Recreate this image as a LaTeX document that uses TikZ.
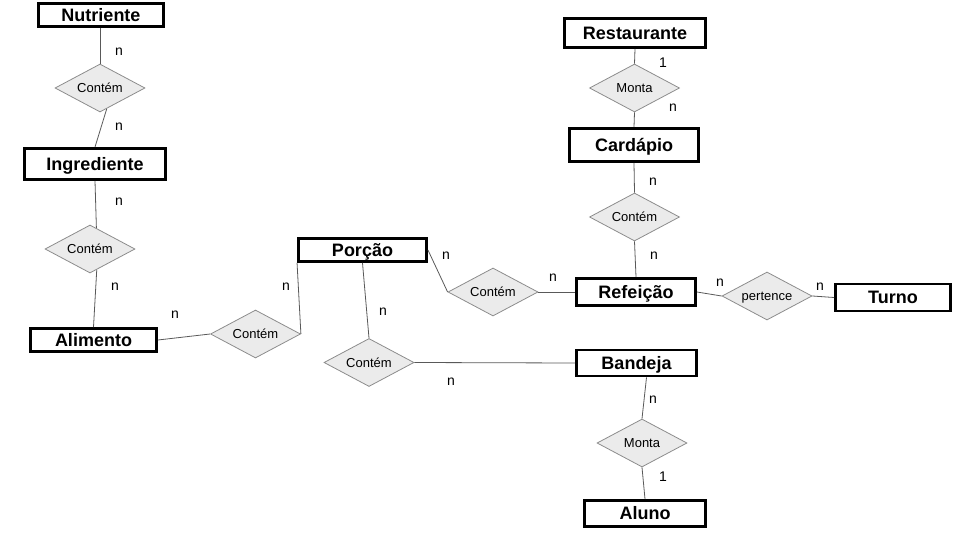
\documentclass[tikz,border=0pt]{standalone}
\usepackage{fontspec}
\setmainfont{Liberation Sans}
\usetikzlibrary{shapes.geometric,calc}

\begin{document}
\begin{tikzpicture}[x=1pt,y=-1pt,
	entidade/.style={draw=black, line width=2.9pt, fill=white, inner sep=0pt, text height=12.9pt, text depth=0pt, font=\fontsize{18}{20}\selectfont\bfseries},
	relacao/.style={diamond, shape aspect=2, draw=black!45, fill=black!8, line width=0.8pt, inner sep=0pt, minimum width=90pt, minimum height=48pt, text height=9.3pt, text depth=0pt, font=\fontsize{13}{15}\selectfont},
	liga/.style={draw=black!65, line width=0.8pt},
	rotulo/.style={inner sep=0pt, font=\fontsize{14}{16}\selectfont}]
	\useasboundingbox (0,0) rectangle (960,540);
	% entidades
	\node[entidade, minimum width=125pt, minimum height=23pt] (nutriente) at (101,15) {Nutriente};
	\node[entidade, minimum width=141pt, minimum height=31pt] (ingrediente) at (95,164) {Ingrediente};
	\node[entidade, minimum width=126pt, minimum height=23pt] (alimento) at (93.5,340) {Alimento};
	\node[entidade, minimum width=128pt, minimum height=23pt] (porcao) at (362.5,250) {Porção};
	\node[entidade, minimum width=119pt, minimum height=27pt] (refeicao) at (636,292) {Refeição};
	\node[entidade, minimum width=120pt, minimum height=26pt] (bandeja) at (636.5,363) {Bandeja};
	\node[entidade, minimum width=115pt, minimum height=27pt] (turno) at (893,297.5) {Turno};
	\node[entidade, minimum width=141pt, minimum height=29pt] (restaurante) at (635,33) {Restaurante};
	\node[entidade, minimum width=129pt, minimum height=33pt] (cardapio) at (634,145) {Cardápio};
	\node[entidade, minimum width=121pt, minimum height=26pt] (aluno) at (645,513.5) {Aluno};
	% relacionamentos
	\node[relacao] (contem1) at (100,88) {Contém};
	\node[relacao] (contem2) at (90,249) {Contém};
	\node[relacao] (contem3) at (255.5,334) {Contém};
	\node[relacao] (contem4) at (493,292) {Contém};
	\node[relacao] (contem5) at (369,362.5) {Contém};
	\node[relacao] (pertence) at (767,296) {pertence};
	\node[relacao] (monta1) at (634.5,88) {Monta};
	\node[relacao] (contem6) at (634.5,217) {Contém};
	\node[relacao] (monta2) at (642,443) {Monta};
	% ligacoes
	\draw[liga] (nutriente.south -| contem1.north) -- (contem1.north);
	\draw[liga] (contem1.-72) -- (ingrediente.north);
	\draw[liga] (ingrediente.south) -- (contem2.73);
	\draw[liga] (contem2.-72) -- (alimento.north);
	\draw[liga] (alimento.east) -- (contem3.west);
	\draw[liga] (contem3.east) -- (porcao.south west);
	\draw[liga] (porcao.east) -- (contem4.west);
	\draw[liga] (contem4.east) -- (refeicao.west);
	\draw[liga] (porcao.south) -- (contem5.north);
	\draw[liga] (contem5.east) -- (bandeja.west);
	\draw[liga] (restaurante.south) -- (monta1.north);
	\draw[liga] (monta1.south) -- (cardapio.north);
	\draw[liga] (cardapio.south) -- (contem6.north);
	\draw[liga] (contem6.south) -- (refeicao.north);
	\draw[liga] (refeicao.east) -- (pertence.west);
	\draw[liga] (pertence.east) -- (turno.west);
	\draw[liga] ($(bandeja.south)+(10,0)$) -- (monta2.north);
	\draw[liga] (monta2.south) -- (aluno.north);
	% cardinalidades
	\foreach \x/\y/\t [count=\i] in {119/52/n, 119/127/n, 119/202/n, 115/287/n, 175/315/n, 286/287/n,
		446/256/n, 553/278/n, 383/312/n, 451/382/n, 663/63/1, 673/108/n, 653/182/n, 654/256/n,
		720/283/n, 820/287/n, 653/400/n, 663/477/1}
		\node[rotulo] (card\i) at (\x,\y) {\t};
\end{tikzpicture}
\end{document}
